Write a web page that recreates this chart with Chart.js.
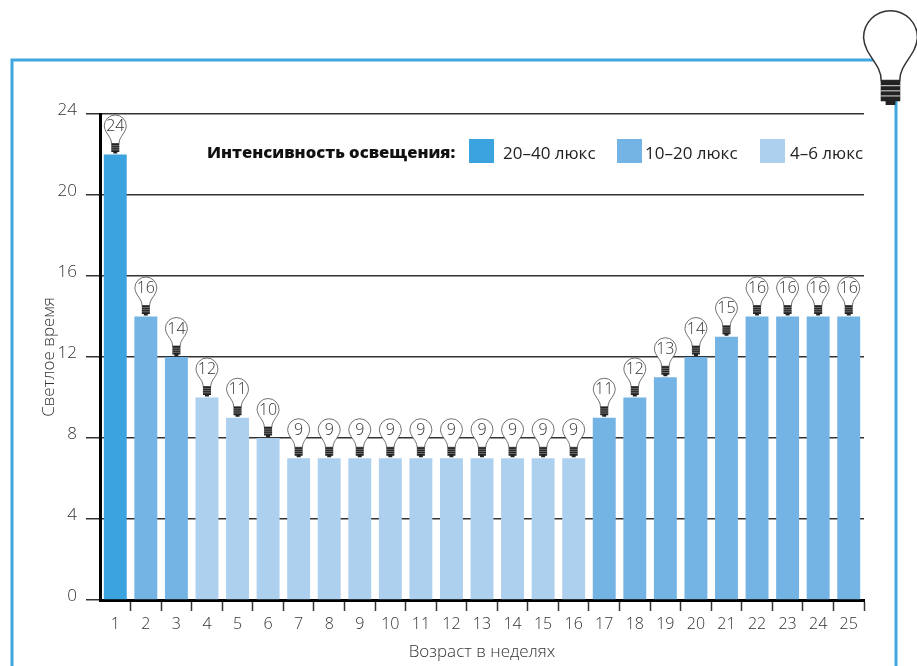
<!DOCTYPE html>
<html lang="ru">
<head>
<meta charset="utf-8">
<title>Светлое время</title>
<script src="https://cdn.jsdelivr.net/npm/chart.js@4"></script>
<style>
  html, body { margin: 0; padding: 0; background: #fff; }
  #wrap { position: relative; width: 917px; height: 666px; }
</style>
</head>
<body>
<div id="wrap"><canvas id="chart" width="917" height="666"></canvas></div>
<script>
const weeks = ['1','2','3','4','5','6','7','8','9','10','11','12','13','14','15','16','17','18','19','20','21','22','23','24','25'];
const lightHours = [22,14,12,10,9,8,7,7,7,7,7,7,7,7,7,7,9,10,11,12,13,14,14,14,14];
const bulbLabels = [24,16,14,12,11,10,9,9,9,9,9,9,9,9,9,9,11,12,13,14,15,16,16,16,16];
const intensityGroup = [0,1,1,2,2,2,2,2,2,2,2,2,2,2,2,2,1,1,1,1,1,1,1,1,1];
const legendTitle = 'Интенсивность освещения:';
const legendLabels = ['20–40 люкс', '10–20 люкс', '4–6 люкс'];
const groupColors = ['#3ba3de', '#73b4e4', '#aed0ef'];

const FONT = '"Open Sans", "Noto Sans", sans-serif';
const TEXT = '#333';

function drawBulb(ctx, cx, bottom, k, lineW) {
  const cy = bottom - 27.5 * k;
  const r = 11 * k;
  ctx.save();
  ctx.beginPath();
  ctx.moveTo(cx - 3.8 * k, bottom - 10 * k);
  ctx.bezierCurveTo(cx - 3.8 * k, bottom - 17 * k, cx - r * 0.95, bottom - 20 * k, cx - r, cy);
  ctx.arc(cx, cy, r, Math.PI, 0);
  ctx.bezierCurveTo(cx + r * 0.95, bottom - 20 * k, cx + 3.8 * k, bottom - 17 * k, cx + 3.8 * k, bottom - 10 * k);
  ctx.closePath();
  ctx.fillStyle = '#fff';
  ctx.fill();
  ctx.strokeStyle = '#333';
  ctx.lineWidth = lineW;
  ctx.stroke();
  // цоколь
  ctx.fillStyle = '#222';
  ctx.beginPath();
  ctx.rect(cx - 4 * k, bottom - 10 * k, 8 * k, 8.5 * k);
  ctx.rect(cx - 2 * k, bottom - 1.5 * k, 4 * k, 1.5 * k);
  ctx.fill();
  ctx.strokeStyle = 'rgba(255,255,255,0.7)';
  ctx.lineWidth = 0.5 * k;
  for (let i = 1; i < 4; i++) {
    ctx.beginPath();
    ctx.moveTo(cx - 4 * k, bottom - 10 * k + i * 2.1 * k);
    ctx.lineTo(cx + 4 * k, bottom - 10 * k + i * 2.1 * k);
    ctx.stroke();
  }
  ctx.restore();
  return cy;
}

const decorPlugin = {
  id: 'decor',
  beforeDraw(chart) {
    const ctx = chart.ctx;
    ctx.save();
    ctx.strokeStyle = '#3fa7e0';
    ctx.lineWidth = 3;
    ctx.beginPath();
    ctx.moveTo(12, 666);
    ctx.lineTo(12, 60);
    ctx.lineTo(880, 60);
    ctx.moveTo(896, 100);
    ctx.lineTo(896, 666);
    ctx.stroke();
    ctx.restore();
  },
  afterDatasetsDraw(chart) {
    const ctx = chart.ctx;
    const bars = chart.getDatasetMeta(0).data;
    ctx.save();
    bars.forEach((bar, i) => {
      const cy = drawBulb(ctx, bar.x, bar.y - 1, 1, 0.7);
      ctx.fillStyle = TEXT;
      ctx.font = '300 16px ' + FONT;
      ctx.textAlign = 'center';
      ctx.textBaseline = 'middle';
      ctx.fillText(String(bulbLabels[i]), bar.x, cy + 0.5);
    });
    ctx.restore();

    // легенда
    ctx.save();
    ctx.textBaseline = 'middle';
    ctx.textAlign = 'left';
    ctx.fillStyle = '#111';
    ctx.font = '800 16.6px ' + FONT;
    ctx.fillText(legendTitle, 207, 153);
    const swatchX = [469, 617, 760];
    const labelX = [503, 645, 790];
    ctx.font = '17px ' + FONT;
    legendLabels.forEach((label, i) => {
      ctx.fillStyle = groupColors[i];
      ctx.fillRect(swatchX[i], 139, 25, 24);
      ctx.fillStyle = '#222';
      ctx.fillText(label, labelX[i], 154);
    });
    ctx.restore();

    drawBulb(ctx, 890.5, 105, 2.45, 1.5);
  }
};

new Chart(document.getElementById('chart'), {
  type: 'bar',
  data: {
    labels: weeks,
    datasets: [{
      data: lightHours,
      backgroundColor: intensityGroup.map(g => groupColors[g]),
      barPercentage: 0.75,
      categoryPercentage: 1
    }]
  },
  options: {
    responsive: false,
    animation: false,
    layout: { padding: { left: 39, right: 53, top: 114, bottom: 4 } },
    plugins: { legend: { display: false }, tooltip: { enabled: false } },
    scales: {
      x: {
        afterFit(scale) { scale.height = 62; },
        grid: {
          offset: true,
          drawOnChartArea: false,
          tickLength: 11,
          tickWidth: 1.5,
          tickColor: ctx => ctx.index === 0 ? 'transparent' : '#333'
        },
        border: { color: '#000', width: 3 },
        ticks: { color: TEXT, font: { family: FONT, size: 16, weight: 300 }, padding: 4, maxRotation: 0, autoSkip: false },
        title: { display: true, text: 'Возраст в неделях', color: TEXT, font: { family: FONT, size: 17, weight: 300 }, padding: 0 }
      },
      y: {
        min: 0,
        max: 24,
        afterFit(scale) { scale.width = 61; },
        grid: { color: '#333', lineWidth: 1.5, tickLength: 14 },
        border: { color: '#000', width: 3 },
        ticks: {
          stepSize: 4,
          color: TEXT,
          padding: 9,
          font: { family: FONT, size: 17, weight: 300, lineHeight: 0.45 },
          callback: v => [String(v), '']
        },
        title: { display: true, text: 'Светлое время', color: TEXT, font: { family: FONT, size: 17, weight: 300 }, padding: 0 }
      }
    }
  },
  plugins: [decorPlugin]
});
</script>
</body>
</html>
